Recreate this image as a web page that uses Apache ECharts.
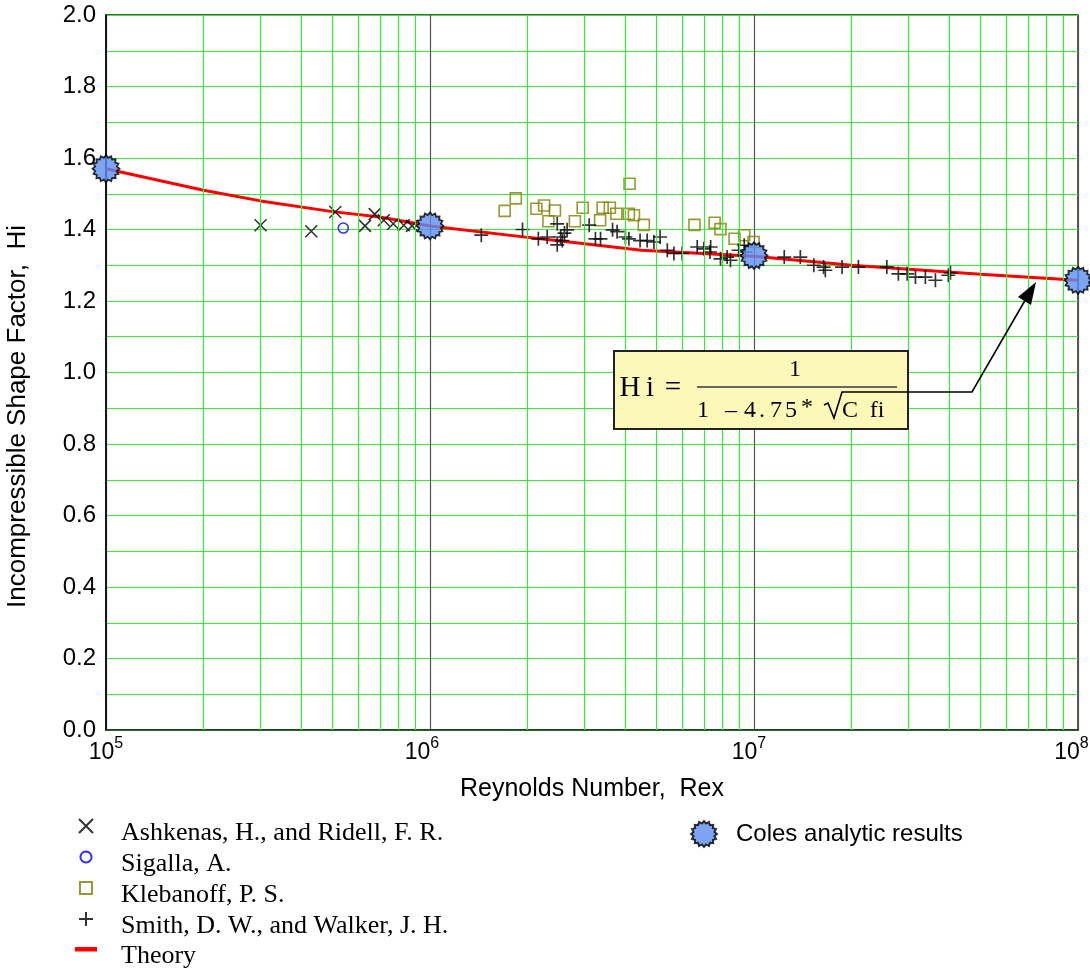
<!DOCTYPE html>
<html><head><meta charset="utf-8">
<script src="https://cdn.jsdelivr.net/npm/echarts@6/dist/echarts.min.js"></script>
<style>html,body{margin:0;padding:0;background:#fff}#c{width:1090px;height:969px}</style>
</head><body><div id="c"></div>
<script>
// ---- data ----
const ashkenasRe = [3.0e5,4.3e5,5.1e5,6.3e5,6.75e5,7.2e5,7.7e5,8.3e5,8.8e5];
const ashkenasH  = [1.412,1.395,1.449,1.410,1.443,1.426,1.416,1.412,1.410];
const sigallaRe = [5.4e5];
const sigallaH  = [1.404];
const klebanoffRe = [1.70e6,1.84e6,2.13e6,2.25e6,2.32e6,2.43e6,2.80e6,2.96e6,3.35e6,3.41e6,3.59e6,3.76e6,4.11e6,4.13e6,4.26e6,4.57e6,6.55e6,7.56e6,7.88e6,8.71e6,9.33e6,9.97e6];
const klebanoffH  = [1.452,1.487,1.458,1.467,1.423,1.453,1.423,1.461,1.426,1.461,1.461,1.444,1.444,1.528,1.440,1.413,1.413,1.419,1.401,1.374,1.384,1.365];
const smithRe = [1.44e6,1.93e6,2.16e6,2.30e6,2.47e6,2.47e6,2.53e6,2.56e6,2.60e6,2.65e6,3.10e6,3.24e6,3.36e6,3.66e6,3.78e6,4.01e6,4.11e6,4.45e6,4.68e6,4.91e6,5.13e6,5.40e6,5.66e6,6.00e6,6.68e6,7.00e6,7.35e6,7.31e6,7.88e6,8.26e6,8.46e6,8.97e6,9.33e6,9.40e6,1.24e7,1.39e7,1.53e7,1.64e7,1.66e7,1.87e7,2.10e7,2.57e7,2.79e7,2.97e7,3.15e7,3.38e7,3.63e7,3.98e7,4.04e7];
const smithH  = [1.384,1.400,1.374,1.379,1.416,1.357,1.379,1.369,1.390,1.399,1.412,1.374,1.374,1.399,1.394,1.379,1.374,1.369,1.369,1.365,1.379,1.342,1.333,1.333,1.351,1.346,1.351,1.337,1.318,1.323,1.314,1.342,1.356,1.337,1.323,1.323,1.300,1.295,1.286,1.295,1.295,1.295,1.276,1.276,1.267,1.267,1.258,1.272,1.279];
const theoryRe = [1e5,2e5,3e5,5e5,7e5,1e6,2e6,4.5e6,1e7,2e7,5e7,1e8];
const theoryH  = [1.57,1.51,1.48,1.45,1.435,1.41,1.378,1.342,1.325,1.30,1.275,1.258];
const colesRe = [1e5,1e6,1e7,1e8];
const colesH  = [1.57,1.41,1.327,1.258];
const minorGridRe = [2e5,3e5,4e5,5e5,6e5,7e5,8e5,9e5,2e6,3e6,4e6,5e6,6e6,7e6,8e6,9e6,2e7,3e7,4e7,5e7,6e7,7e7,8e7,9e7];
const seriesNames = ['Ashkenas, H., and Ridell, F. R.','Sigalla, A.','Klebanoff, P. S.','Smith, D. W., and Walker, J. H.','Theory'];
const colesName = 'Coles analytic results';

// ---- symbols ----
const xPath = 'path://M0,0L10,10M10,0L0,10';
const plusPath = 'path://M5,0L5,10M0,5L10,5';
function gearPath(){
  let s='path://'; const n=16;
  for(let i=0;i<2*n;i++){
    const r = i%2===0?10:8.2; const a=Math.PI*i/n;
    s += (i===0?'M':'L') + (10+r*Math.cos(a)).toFixed(2)+','+(10+r*Math.sin(a)).toFixed(2);
  }
  return s+'Z';
}
function circlePath(cx,cy,r){
  let s=''; const n=24;
  for(let i=0;i<n;i++){const a=2*Math.PI*i/n; s+=(i===0?'M':'L')+(cx+r*Math.cos(a)).toFixed(2)+','+(cy+r*Math.sin(a)).toFixed(2);}
  return s+'Z';
}
const gear = gearPath();
// legend icons drawn in a 22x28 frame, mark centred at (11,7)
const frame = 'path://M0,0M22,28';
const legX = frame+'M4,0L18,14M18,0L4,14';
const legO = frame+circlePath(11,7,5.5);
const legSq = frame+'M5,1L17,1L17,13L5,13Z';
const legPlus = frame+'M11,0L11,14M4,7L18,7';
const legBar = frame+'M0,5L22,5L22,9.5L0,9.5Z';
const zip = (a,b)=>a.map((v,i)=>[v,b[i]]);
const supPad = {5:0,6:16,7:10,8:13};

const chart = echarts.init(document.getElementById('c'));
const serif = 'Liberation Serif';
const sans = 'Liberation Sans';

const option = {
  animation:false,
  backgroundColor:'#fff',
  grid:{left:106,right:12,top:15,bottom:239,containLabel:false,outerBoundsMode:'none',
        show:true,borderColor:'#222',borderWidth:1.5,backgroundColor:'transparent'},
  xAxis:{
    type:'log',logBase:10,min:1e5,max:1e8,
    name:'Reynolds Number,  Rex',nameLocation:'middle',nameGap:47,
    nameTextStyle:{fontFamily:sans,fontSize:25,color:'#000'},
    axisLine:{show:true,lineStyle:{color:'#1a3a1a',width:1.5}},
    axisTick:{show:false},
    splitLine:{show:true,lineStyle:{color:'#555',width:1.2}},
    axisLabel:{margin:6,color:'#000',
      formatter:v=>{const e=Math.round(Math.log10(v));return '{b|10}{s'+e+'|'+e+'}';},
      rich:Object.assign({b:{fontFamily:sans,fontSize:23,color:'#000',verticalAlign:'bottom'}},
        ...[5,6,7,8].map(e=>({['s'+e]:{fontFamily:sans,fontSize:16,color:'#000',verticalAlign:'top',padding:[0,supPad[e],12,0]}})))}
  },
  yAxis:{
    type:'value',min:0,max:2,interval:0.2,
    name:'Incompressible Shape Factor,  Hi',nameLocation:'middle',nameGap:75,
    nameTextStyle:{fontFamily:sans,fontSize:26,color:'#000',padding:[0,88,0,0]},
    axisLine:{show:true,lineStyle:{color:'#000',width:1.5}},
    axisTick:{show:false},
    axisLabel:{margin:10,fontFamily:sans,fontSize:24,color:'#000',formatter:v=>v.toFixed(1)},
    splitLine:{show:true,lineStyle:{color:'#33ee33',width:1.2}},
    minorTick:{show:false,splitNumber:2},
    minorSplitLine:{show:true,lineStyle:{color:'#33ee33',width:1.2}}
  },
  legend:[
    {orient:'vertical',left:74,top:818,height:170,padding:0,itemGap:1,itemWidth:22,itemHeight:28,symbolKeepAspect:true,
     data:[{name:seriesNames[0],icon:legX},{name:seriesNames[1],icon:legO},{name:seriesNames[2],icon:legSq},{name:seriesNames[3],icon:legPlus},{name:seriesNames[4],icon:legBar}],
     textStyle:{fontFamily:serif,fontSize:26,color:'#000',lineHeight:22,padding:[0,0,0,19]}},
    {orient:'vertical',left:690,top:820,padding:0,itemWidth:26,itemHeight:26,
     data:[colesName],
     textStyle:{fontFamily:sans,fontSize:24,color:'#000',padding:[0,0,0,14]}}
  ],
  series:[
    {name:'gridMinor',type:'line',data:[],silent:true,
     markLine:{silent:true,symbol:['none','none'],label:{show:false},
       lineStyle:{color:'#33ee33',width:1.2,type:'solid'},
       data:minorGridRe.map(v=>({xAxis:v}))},z:1},
    {name:seriesNames[4],type:'line',data:zip(theoryRe,theoryH),symbol:'none',
     lineStyle:{color:'#ff0000',width:3},itemStyle:{color:'#ff0000'},z:3},
    {name:seriesNames[0],type:'scatter',data:zip(ashkenasRe,ashkenasH),symbol:xPath,symbolSize:12,symbolKeepAspect:true,
     itemStyle:{color:'transparent',borderColor:'#000',borderWidth:1.6},z:4},
    {name:seriesNames[1],type:'scatter',data:zip(sigallaRe,sigallaH),symbol:'circle',symbolSize:10,
     itemStyle:{color:'transparent',borderColor:'#0000ff',borderWidth:1.6},z:4},
    {name:seriesNames[2],type:'scatter',data:zip(klebanoffRe,klebanoffH),symbol:'rect',symbolSize:11,
     itemStyle:{color:'transparent',borderColor:'#808000',borderWidth:1.6},z:4},
    {name:seriesNames[3],type:'scatter',data:zip(smithRe,smithH),symbol:plusPath,symbolSize:14,symbolKeepAspect:true,
     itemStyle:{color:'transparent',borderColor:'#000',borderWidth:1.7},z:4},
    {name:colesName,type:'scatter',data:zip(colesRe,colesH),symbol:gear,symbolSize:27,
     itemStyle:{color:'#5b8ff0',borderColor:'#000',borderWidth:1.8},z:5}
  ],
  graphic:[
    {type:'rect',shape:{x:614,y:351,width:294,height:78},style:{fill:'#fcf8b8',stroke:'#222',lineWidth:2},z:10},
    {type:'text',x:630,y:388,style:{text:'H',font:'29px "Liberation Serif"',fill:'#000',align:'center',verticalAlign:'middle'},z:11},
    {type:'text',x:650,y:388,style:{text:'i',font:'29px "Liberation Serif"',fill:'#000',align:'center',verticalAlign:'middle'},z:11},
    {type:'text',x:673,y:388,style:{text:'=',font:'29px "Liberation Serif"',fill:'#000',align:'center',verticalAlign:'middle'},z:11},
    {type:'text',x:795,y:370,style:{text:'1',font:'24px "Liberation Serif"',fill:'#000',align:'center',verticalAlign:'middle'},z:11},
    {type:'line',shape:{x1:697,y1:387,x2:897,y2:387},style:{stroke:'#666',lineWidth:2},z:11},
    {type:'text',x:703,y:411,style:{text:'1',font:'24px "Liberation Serif"',fill:'#000',align:'center',verticalAlign:'middle'},z:11},
    {type:'text',x:731,y:411,style:{text:'\u2013',font:'24px "Liberation Serif"',fill:'#000',align:'center',verticalAlign:'middle'},z:11},
    {type:'text',x:750,y:411,style:{text:'4',font:'24px "Liberation Serif"',fill:'#000',align:'center',verticalAlign:'middle'},z:11},
    {type:'text',x:762,y:411,style:{text:'.',font:'24px "Liberation Serif"',fill:'#000',align:'center',verticalAlign:'middle'},z:11},
    {type:'text',x:776,y:411,style:{text:'7',font:'24px "Liberation Serif"',fill:'#000',align:'center',verticalAlign:'middle'},z:11},
    {type:'text',x:791,y:411,style:{text:'5',font:'24px "Liberation Serif"',fill:'#000',align:'center',verticalAlign:'middle'},z:11},
    {type:'text',x:807,y:408,style:{text:'*',font:'24px "Liberation Serif"',fill:'#000',align:'center',verticalAlign:'middle'},z:11},
    {type:'polyline',shape:{points:[[824,405],[828,403],[834,418],[842,392],[895,392]]},style:{stroke:'#000',lineWidth:1.6,fill:null},z:11},
    {type:'text',x:850,y:411,style:{text:'C',font:'24px "Liberation Serif"',fill:'#000',align:'center',verticalAlign:'middle'},z:11},
    {type:'text',x:877,y:411,style:{text:'fi',font:'24px "Liberation Serif"',fill:'#000',align:'center',verticalAlign:'middle'},z:11},
    {type:'polyline',shape:{points:[[895,392],[972,392],[1027,297]]},style:{stroke:'#000',lineWidth:1.6,fill:null},z:11},
    {type:'polygon',shape:{points:[[1036,282],[1031,305],[1018,297]]},style:{fill:'#000'},z:11}
  ]
};
chart.setOption(option);
</script>
</body></html>
